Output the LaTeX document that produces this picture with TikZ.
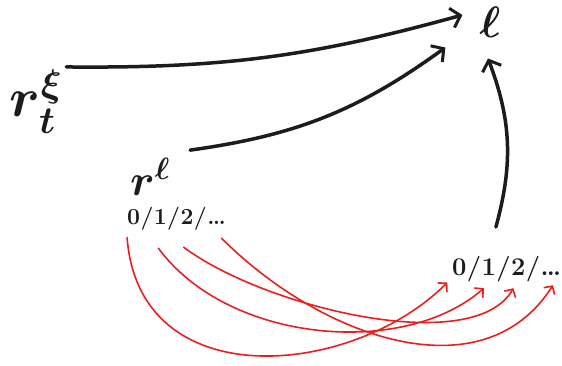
\documentclass[tikz,border=0pt]{standalone}
\usepackage{fix-cm}
\usetikzlibrary{arrows.meta}
\definecolor{ink}{RGB}{28,28,28}
\definecolor{redink}{RGB}{232,32,32}
\begin{document}
\begin{tikzpicture}[x=1pt,y=1pt,
  lab/.style={inner sep=0pt, text=ink},
  midnum/.style={inner sep=0pt, anchor=base west, text=ink, font=\fontsize{23}{23}\selectfont\bfseries},
  rgtnum/.style={inner sep=0pt, anchor=base west, text=ink, font=\fontsize{25.5}{25.5}\selectfont\bfseries},
  blk/.style={draw=ink, line width=3.5pt, line cap=round, -{Straight Barb[length=9pt,width=20pt,line width=3pt]}},
  redarrow/.style={draw=redink, line width=1.6pt, line cap=round, -{Straight Barb[length=6pt,width=13pt,line width=1.6pt]}}
]
\useasboundingbox (0,0) rectangle (562,365);
\fill[white] (0,0) rectangle (562,365);

% labels
\node[lab, font=\fontsize{44}{44}\selectfont\boldmath] (ell) at (490,343) {$\ell$};
\node[lab, font=\fontsize{55}{55}\selectfont\boldmath] (lt) at (36,263) {$r^{\xi}_{t}$};
\node[lab, font=\fontsize{44}{44}\selectfont\boldmath] (ml) at (150,188) {$r^{\ell}$};

% middle sequence
\node[midnum] (m0) at (127,141) {0};
\node[midnum] (ms1) at (m0.base east) {/};
\node[midnum] (m1) at (ms1.base east) {1};
\node[midnum] (ms2) at (m1.base east) {/};
\node[midnum] (m2) at (ms2.base east) {2};
\node[midnum] (ms3) at (m2.base east) {/};
\node[midnum] (md) at (ms3.base east) {\dots};

% right sequence
\node[rgtnum] (r0) at (452,90) {0};
\node[rgtnum] (rs1) at (r0.base east) {/};
\node[rgtnum] (r1) at (rs1.base east) {1};
\node[rgtnum] (rs2) at (r1.base east) {/};
\node[rgtnum] (r2) at (rs2.base east) {2};
\node[rgtnum] (rs3) at (r2.base east) {/};
\node[rgtnum] (rd) at (rs3.base east) {\dots};

% black arrows
\draw[blk] ([shift={(4,3)}]lt.north east) to[bend right=8] ([shift={(-17,7)}]ell.west);
\draw[blk] ([shift={(20,8)}]ml.north east) to[bend right=14] ([shift={(-34,-10)}]ell.south west);
\draw[blk] ([shift={(7,31)}]r1.north) to[bend right=18] ([shift={(-2,-21)}]ell.south);

% red arrows
\draw[redarrow] ([shift={(-6.6,-13)}]m0.south) .. controls +(12,-160) and +(-95,-95) .. ([shift={(-12,-7)}]r0.south);
\draw[redarrow] ([shift={(-2,-24)}]m1.south) .. controls +(70,-95) and +(-80,-70) .. ([shift={(-5,-13)}]r1.south);
\draw[redarrow] ([shift={(-3.4,-23)}]m2.south) .. controls +(80,-60) and +(-40,-70) .. ([shift={(-5,-13)}]r2.south);
\draw[redarrow] ([shift={(5,-14)}]md.south) .. controls +(100,-100) and +(-70,-110) .. ([shift={(2,-10)}]rd.south);
\end{tikzpicture}
\end{document}
